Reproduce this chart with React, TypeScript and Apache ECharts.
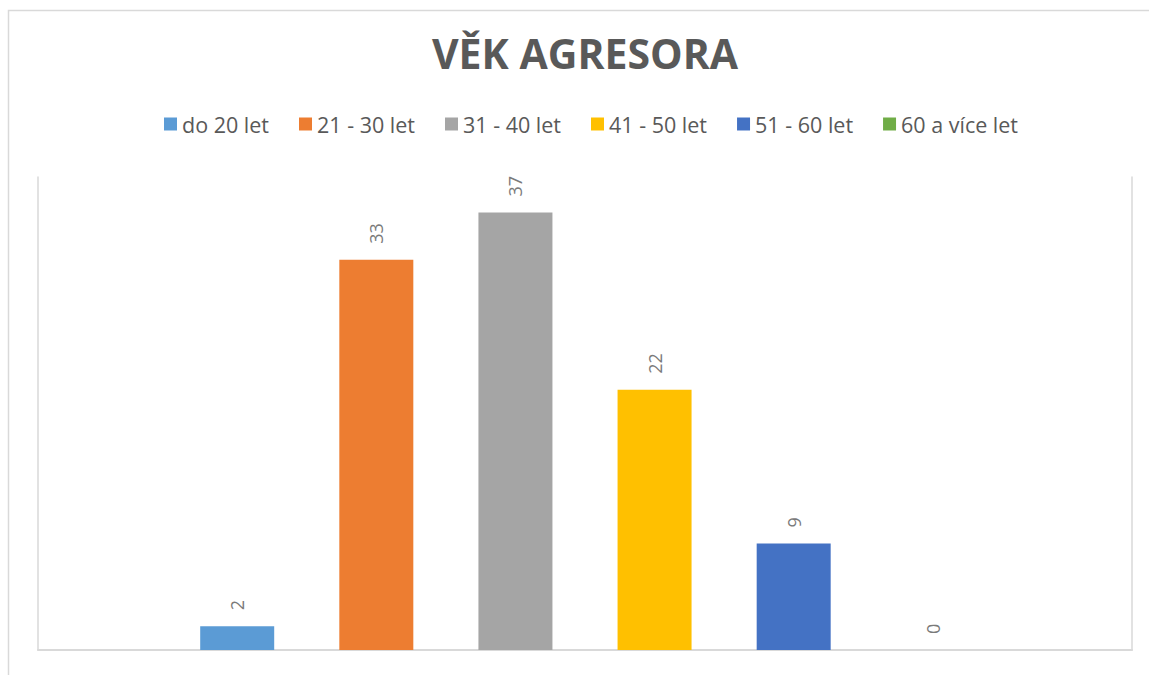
import React, { useEffect, useRef } from "react";
import * as echarts from "echarts";

const titleText = "VĚK AGRESORA";
const categories = ["do 20 let", "21 - 30 let", "31 - 40 let", "41 - 50 let", "51 - 60 let", "60 a více let"];
const values = [2, 33, 37, 22, 9, 0];
const colors = ["#5B9BD5", "#ED7D31", "#A5A5A5", "#FFC000", "#4472C4", "#70AD47"];
const axisGroup = [""];

const FONT = "'Open Sans', 'Noto Sans', sans-serif";

export default function App() {
  const ref = useRef<HTMLDivElement>(null);
  useEffect(() => {
    document.body.style.margin = "0";
    if (!ref.current) return;
    const chart = echarts.init(ref.current, undefined, { renderer: "svg" });
    chart.setOption({
      animation: false,
      backgroundColor: "#ffffff",
      title: {
        text: titleText,
        left: 580,
        textAlign: "center",
        top: 27,
        textStyle: { fontFamily: FONT, fontWeight: "bold", fontSize: 41, color: "#595959" },
      },
      legend: {
        data: categories,
        left: 164,
        top: 113,
        padding: 0,
        icon: "rect",
        itemWidth: 13,
        itemHeight: 13,
        itemGap: 30,
        textStyle: { fontFamily: FONT, fontSize: 21.5, color: "#595959" },
      },
      graphic: [
        {
          type: "rect",
          shape: { x: 8.5, y: 10.5, width: 1200, height: 700 },
          style: { fill: "none", stroke: "#d9d9d9", lineWidth: 1.5 },
          silent: true,
        },
      ],
      grid: { left: 38, right: 17, top: 177, bottom: 25, containLabel: false },
      xAxis: {
        type: "category",
        data: axisGroup,
        axisLine: { show: true, lineStyle: { color: "#d9d9d9", width: 2 } },
        axisTick: { show: false },
        axisLabel: { show: false },
      },
      yAxis: [
        {
          type: "value",
          min: 0,
          max: 40,
          axisLine: { show: true, lineStyle: { color: "#d9d9d9", width: 1.5 } },
          axisTick: { show: false },
          axisLabel: { show: false },
          splitLine: { show: false },
        },
        {
          type: "value",
          position: "right",
          min: 0,
          max: 40,
          axisLine: { show: true, lineStyle: { color: "#d9d9d9", width: 1.5 } },
          axisTick: { show: false },
          axisLabel: { show: false },
          splitLine: { show: false },
        },
      ],
      series: categories.map((name, i) => ({
        type: "bar",
        name,
        data: [values[i]],
        yAxisIndex: 0,
        barWidth: 74,
        barGap: "88%",
        itemStyle: { color: colors[i] },
        label: {
          show: true,
          position: "top",
          rotate: 90,
          align: "left",
          verticalAlign: "middle",
          distance: 16,
          fontFamily: FONT,
          fontSize: 18,
          color: "#7a7a7a",
        },
      })),
    });
    return () => chart.dispose();
  }, []);
  return <div ref={ref} style={{ width: 1149, height: 675 }} />;
}
